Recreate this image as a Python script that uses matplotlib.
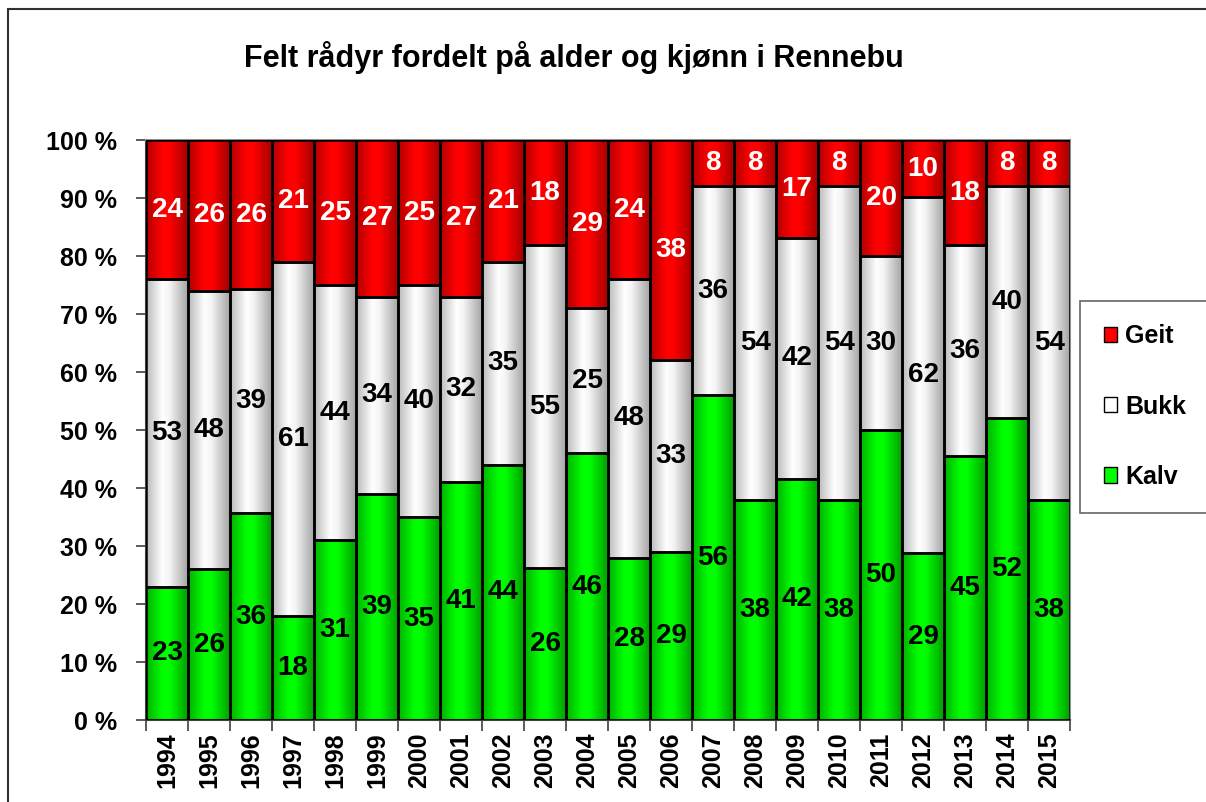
import numpy as np
import matplotlib
matplotlib.use('Agg')
import matplotlib.pyplot as plt
from matplotlib.colors import LinearSegmentedColormap
from matplotlib.patches import Patch, Rectangle

plt.rcParams['font.family'] = ['Liberation Sans', 'DejaVu Sans']
plt.rcParams['font.weight'] = 'bold'

# data (percent labels as shown in the chart)
years = ['1994', '1995', '1996', '1997', '1998', '1999', '2000', '2001', '2002', '2003', '2004',
         '2005', '2006', '2007', '2008', '2009', '2010', '2011', '2012', '2013', '2014', '2015']
kalv = [23, 26, 36, 18, 31, 39, 35, 41, 44, 26, 46, 28, 29, 56, 38, 42, 38, 50, 29, 45, 52, 38]
bukk = [53, 48, 39, 61, 44, 34, 40, 32, 35, 55, 25, 48, 33, 36, 54, 42, 54, 30, 62, 36, 40, 54]
geit = [24, 26, 26, 21, 25, 27, 25, 27, 21, 18, 29, 24, 38, 8, 8, 17, 8, 20, 10, 18, 8, 8]

kalv = np.array(kalv, dtype=float)
bukk = np.array(bukk, dtype=float)
geit = np.array(geit, dtype=float)
tot = kalv + bukk + geit
kalv_p = kalv / tot * 100
bukk_p = bukk / tot * 100
geit_p = geit / tot * 100

# name, values, percent, bottom, base colour, gradient colours, label colour
series = [
    ('Kalv', kalv, kalv_p, np.zeros(len(years)), '#00ff00', ['#00b000', '#00ff00', '#00ff00', '#009a00'], 'black'),
    ('Bukk', bukk, bukk_p, kalv_p, '#ffffff', ['#b8b8b8', '#ffffff', '#f4f4f4', '#a0a0a0'], 'black'),
    ('Geit', geit, geit_p, kalv_p + bukk_p, '#ff0000', ['#b00000', '#ff0000', '#ff0000', '#a00000'], 'white'),
]

fig = plt.figure(figsize=(12.06, 8.02), dpi=100)
ax = fig.add_axes([0.1211, 0.1022, 0.7662, 0.7232])

x = np.arange(len(years))
grad = np.linspace(0, 1, 128)[None, :]

for name, vals, pct, bottom, base, gcols, lcol in series:
    bars = ax.bar(x, pct, bottom=bottom, width=1.0, color=base, edgecolor='black',
                  linewidth=1.8, zorder=3)
    cmap = LinearSegmentedColormap.from_list(name, list(zip([0, 0.38, 0.55, 1], gcols)))
    for b in bars:
        x0, y0 = b.get_x(), b.get_y()
        ax.imshow(grad, cmap=cmap, aspect='auto', extent=(x0, x0 + b.get_width(), y0, y0 + b.get_height()),
                  zorder=2, interpolation='bicubic')
        b.set_facecolor('none')
    for xi, v, p, bt in zip(x, vals, pct, bottom):
        ax.text(xi, bt + p / 2, '%d' % v, ha='center', va='center', color=lcol,
                fontsize=20, fontweight='bold', zorder=5)

ax.set_xlim(-0.5, len(years) - 0.5)
ax.set_ylim(0, 100)

ax.set_yticks(np.arange(0, 101, 10))
ax.set_yticklabels(['%d %%' % v for v in range(0, 101, 10)], fontsize=18, fontweight='bold')
ax.tick_params(axis='y', direction='out', length=7, width=1.2, color='#404040', pad=14)

ax.set_xticks(x)
ax.set_xticklabels(years, rotation=90, fontsize=18, fontweight='bold')
ax.set_xticks(np.arange(-0.5, len(years)), minor=True)
ax.tick_params(axis='x', which='major', length=0, pad=9)
ax.tick_params(axis='x', which='minor', direction='out', length=8, width=1.2, color='#404040')

for s in ['left', 'bottom']:
    ax.spines[s].set_color('#404040')
    ax.spines[s].set_linewidth(1.5)
for s in ['top', 'right']:
    ax.spines[s].set_color('#909090')
    ax.spines[s].set_linewidth(1.5)

fig.text(0.476, 1 - 58 / 802, 'Felt rådyr fordelt på alder og kjønn i Rennebu',
         ha='center', va='center', fontsize=22, fontweight='bold')

handles = [Patch(facecolor='#ff0000', edgecolor='black', label='Geit'),
           Patch(facecolor='#ffffff', edgecolor='black', label='Bukk'),
           Patch(facecolor='#00ff00', edgecolor='black', label='Kalv')]
leg = fig.legend(handles=handles, loc='center left', bbox_to_anchor=(0.8955, 0.493),
                 prop={'weight': 'bold', 'size': 18}, frameon=True, fancybox=False,
                 edgecolor='#404040', handlelength=0.55, handleheight=0.55, handletextpad=0.3,
                 labelspacing=1.85, borderpad=0.95, borderaxespad=0)
leg.get_frame().set_linewidth(1.2)

fig.add_artist(Rectangle((8 / 1206, -0.1), 1.2, 1.1 - 9 / 802, transform=fig.transFigure,
                         fill=False, edgecolor='#303030', linewidth=1.5, clip_on=False))

fig.savefig('out.png', dpi=100)
